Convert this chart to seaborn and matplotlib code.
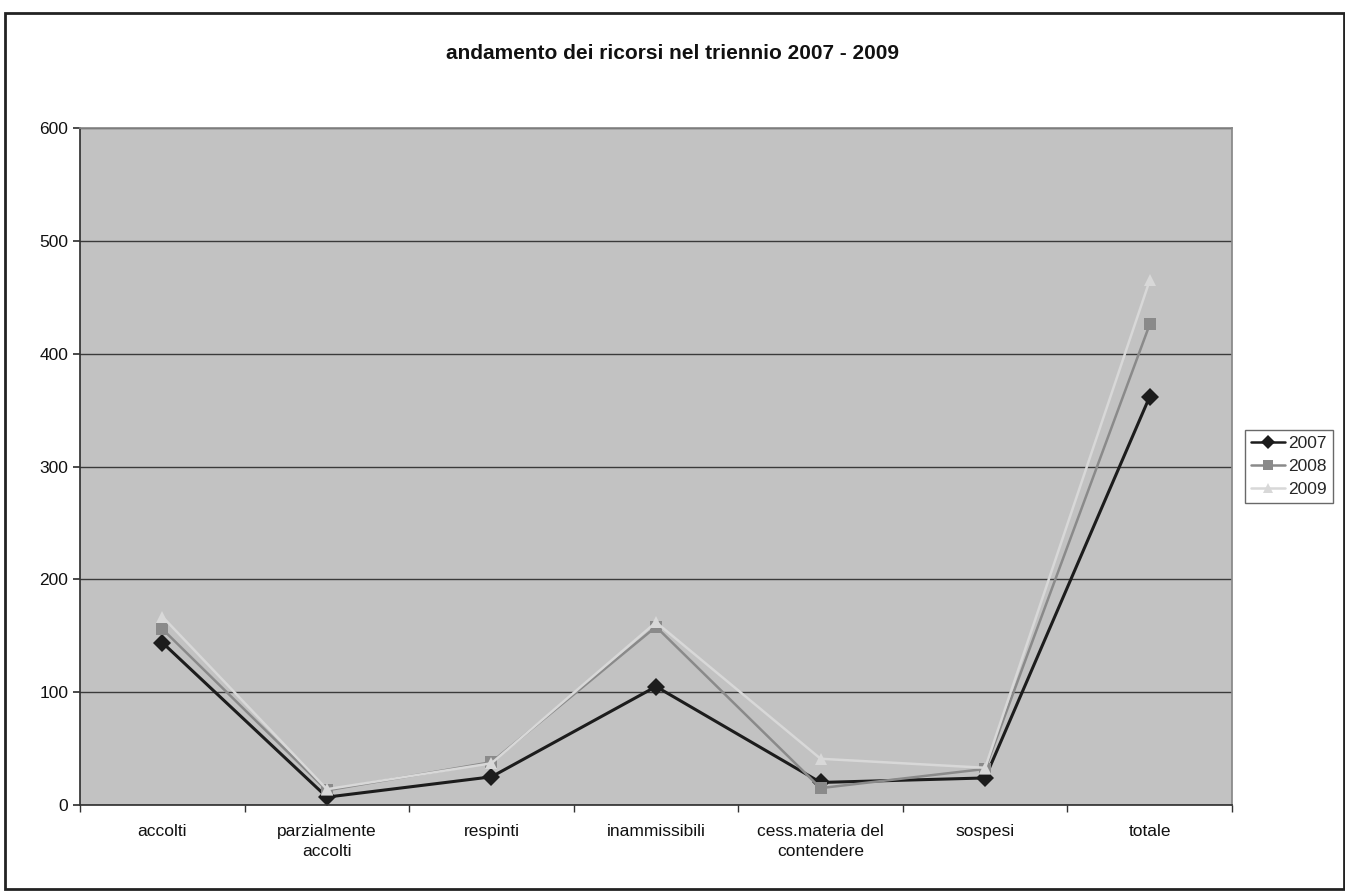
import pandas as pd
import seaborn as sns
import matplotlib.pyplot as plt
from matplotlib.patches import Rectangle

# categorie e valori
categorie = ['accolti', 'parzialmente\naccolti', 'respinti', 'inammissibili',
             'cess.materia del\ncontendere', 'sospesi', 'totale']
anni = ['2007', '2008', '2009']
v2007 = [144, 7, 25, 105, 20, 24, 362]
v2008 = [156, 13, 38, 158, 15, 32, 426]
v2009 = [167, 14, 37, 162, 41, 33, 465]
yticks = [0, 100, 200, 300, 400, 500, 600]

df = pd.DataFrame({
    'pos': list(range(len(categorie))) * 3,
    'valore': v2007 + v2008 + v2009,
    'anno': [a for a in anni for _ in categorie],
})

sns.set_theme(style='white')
plt.rcParams['font.family'] = ['Liberation Sans', 'DejaVu Sans']

fig = plt.figure(figsize=(13.45, 8.92), dpi=100)
ax = fig.add_axes([0.0595, 0.0975, 0.8565, 0.759])

# cornice esterna
fig.patches.append(Rectangle((0.004, 0.003), 0.995, 0.982, transform=fig.transFigure,
                             fill=False, edgecolor='#222222', linewidth=2))

ax.set_facecolor('#c2c2c2')
colori = {'2007': '#1c1c1c', '2008': '#8a8a8a', '2009': '#d8d8d8'}
marker = {'2007': 'D', '2008': 's', '2009': '^'}

sns.lineplot(data=df, x='pos', y='valore', hue='anno', style='anno',
             palette=colori, markers=marker, dashes=False, linewidth=1.8,
             markersize=9, markeredgewidth=0, ax=ax)
ax.lines[0].set_linewidth(2.2)

ax.set_xlim(-0.5, len(categorie) - 0.5)
ax.set_ylim(0, 600)
ax.set_yticks(yticks)
ax.yaxis.grid(True, color='#3a3a3a', linewidth=1)
ax.set_axisbelow(True)
ax.set_xticks(range(len(categorie)))
ax.set_xticklabels(categorie, fontsize=12.5, color='#111111', linespacing=1.4)
ax.set_xticks([i - 0.5 for i in range(len(categorie) + 1)], minor=True)
ax.tick_params(axis='x', which='major', length=0, pad=14)
ax.tick_params(axis='x', which='minor', length=5, color='#333333', bottom=True)
ax.tick_params(axis='y', length=5, color='#333333', left=True, labelsize=12.5,
               labelcolor='#111111')
ax.set_xlabel('')
ax.set_ylabel('')
for s in ['top', 'right']:
    ax.spines[s].set_color('#888888')
for s in ['left', 'bottom']:
    ax.spines[s].set_color('#333333')

fig.text(0.5, 0.94, 'andamento dei ricorsi nel triennio 2007 - 2009',
         ha='center', va='center', fontsize=15, fontweight='bold', color='#111111')

leg = ax.legend(loc='center left', bbox_to_anchor=(1.011, 0.5), frameon=True,
                fancybox=False, fontsize=12.5, handlelength=2.0, handletextpad=0.15,
                borderpad=0.35, labelspacing=0.45, borderaxespad=0, markerscale=0.8)
leg.get_frame().set_edgecolor('#444444')
leg.get_frame().set_linewidth(1)

fig.savefig('out.png', dpi=100)
